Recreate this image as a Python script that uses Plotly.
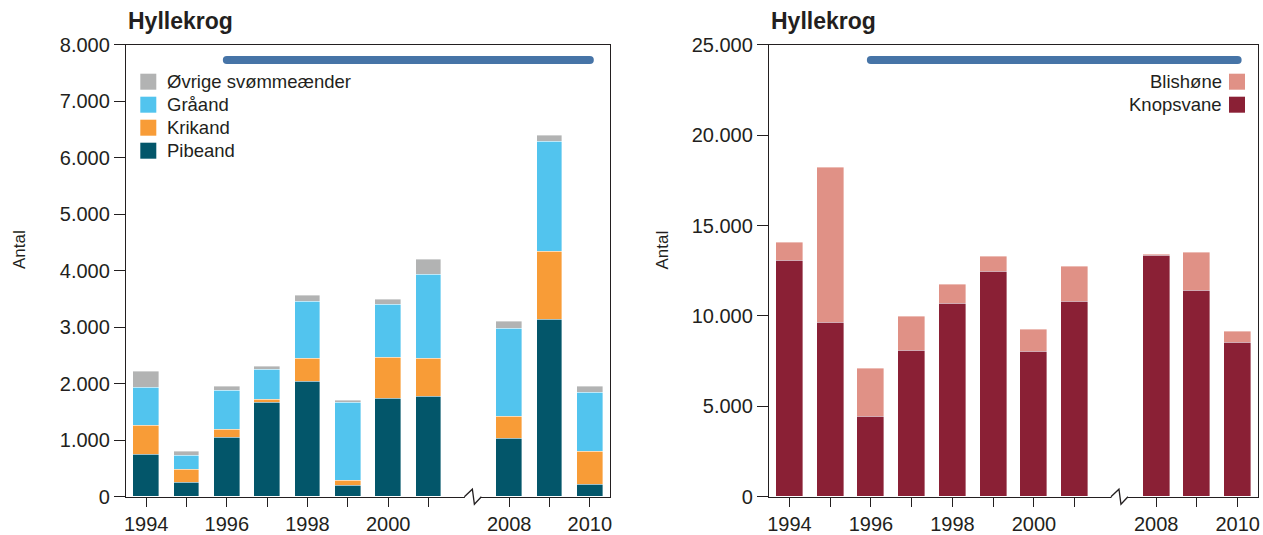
import plotly.graph_objects as go

# data
years = [1994, 1995, 1996, 1997, 1998, 1999, 2000, 2001, 2008, 2009, 2010]
label_years = [1994, 1996, 1998, 2000, 2008, 2010]

pibeand = [749, 242, 1044, 1664, 2035, 195, 1740, 1770, 1021, 3127, 218]
krikand = [508, 242, 148, 59, 402, 82, 726, 667, 395, 1209, 584]
graaand = [672, 242, 684, 531, 1014, 1393, 932, 1492, 1557, 1941, 1045]
ovrige = [289, 76, 77, 53, 107, 23, 83, 266, 124, 106, 106]

knopsvane = [13060, 9610, 4410, 8100, 10700, 12470, 8010, 10780, 13320, 11380, 8510]
blishone = [1010, 8580, 2690, 1860, 1010, 780, 1200, 1950, 90, 2100, 610]

period = [1996, 2010]
period_level_left = 7730
period_level_right = 24150

W, H = 1263, 535
FONT = "Liberation Sans, Arial, Helvetica, sans-serif"
TXT = "#231f20"
BLUE = "#4674a7"

# gap of one slot between 2001 and 2008 (axis break)
pos = [i if y <= 2001 else i + 1 for i, y in enumerate(years)]
year_pos = dict(zip(years, pos))
ticktext = [str(y) if y in label_years else "" for y in years]
BREAK = 8.1


def px(x):
    return x / W


def py(y):
    return 1 - y / H


dom_left = [px(126), px(610)]
dom_right = [px(769), px(1258)]
dom_y = [py(496.7), py(44.7)]

fig = go.Figure()

edge = dict(color="rgba(255,255,255,0.55)", width=0.7)
left_series = [
    ("Pibeand", pibeand, "#03566a"),
    ("Krikand", krikand, "#f89c37"),
    ("Gråand", graaand, "#52c4ee"),
    ("Øvrige svømmeænder", ovrige, "#b2b3b3"),
]
for name, vals, col in left_series:
    fig.add_trace(go.Bar(x=pos, y=vals, name=name, marker_color=col, marker_line=edge,
                         width=0.63, xaxis="x", yaxis="y", showlegend=False))

right_series = [
    ("Knopsvane", knopsvane, "#8a2035"),
    ("Blishøne", blishone, "#e09186"),
]
for name, vals, col in right_series:
    fig.add_trace(go.Bar(x=pos, y=vals, name=name, marker_color=col, marker_line=edge,
                         width=0.66, xaxis="x2", yaxis="y2", showlegend=False))

# monitoring period bars
for xa, ya, lvl in [("x", "y", period_level_left), ("x2", "y2", period_level_right)]:
    fig.add_trace(go.Scatter(x=[year_pos[p] for p in period], y=[lvl, lvl], mode="lines+markers",
                             line=dict(color=BLUE, width=8), marker=dict(color=BLUE, size=8),
                             xaxis=xa, yaxis=ya, showlegend=False, hoverinfo="skip"))

xcommon = dict(range=[-0.5, 11.5], tickmode="array", tickvals=pos, ticktext=ticktext,
               ticks="outside", ticklen=9, tickwidth=1.3, tickcolor=TXT,
               showline=True, linecolor=TXT, linewidth=1.3, mirror=True,
               showgrid=False, zeroline=False, tickfont=dict(size=20, color=TXT),
               automargin=False, fixedrange=True)
ycommon = dict(ticks="outside", ticklen=11, tickwidth=1.3, tickcolor=TXT,
               showline=True, linecolor=TXT, linewidth=1.3, mirror=True,
               showgrid=False, zeroline=False, tickformat=",d",
               tickfont=dict(size=20, color=TXT), automargin=False, fixedrange=True)

fig.update_layout(
    template="none",
    width=W, height=H,
    margin=dict(l=0, r=0, t=0, b=0, pad=0),
    plot_bgcolor="white", paper_bgcolor="white",
    font=dict(family=FONT, color=TXT),
    separators=",.",
    barmode="stack", bargap=0,
    xaxis=dict(domain=dom_left, anchor="y", **xcommon),
    yaxis=dict(domain=dom_y, anchor="x", range=[0, 8000], dtick=1000, **ycommon),
    xaxis2=dict(domain=dom_right, anchor="y2", **xcommon),
    yaxis2=dict(domain=dom_y, anchor="x2", range=[0, 25000], dtick=5000, **ycommon),
)

shapes = []
annotations = []


def break_marks(dom):
    c = dom[0] + (BREAK + 0.5) / 12 * (dom[1] - dom[0])
    cx = c * W
    base = 496.7
    shapes.append(dict(type="rect", xref="paper", yref="paper",
                       x0=px(cx - 8), x1=px(cx + 8), y0=py(base + 2.5), y1=py(base - 2.5),
                       fillcolor="white", line=dict(width=0), layer="above"))
    pts = [(cx - 8.5, base), (cx - 0.5, base - 7.5), (cx + 1.5, base + 7.5), (cx + 8.5, base)]
    path = "M " + " L ".join(f"{px(a):.5f},{py(b):.5f}" for a, b in pts)
    shapes.append(dict(type="path", xref="paper", yref="paper", path=path,
                       line=dict(color=TXT, width=1.3), layer="above"))


break_marks(dom_left)
break_marks(dom_right)

# titles and axis titles
for x0 in (126, 769):
    annotations.append(dict(text="<b>Hyllekrog</b>", xref="paper", yref="paper",
                            x=px(x0), y=py(21), xanchor="left", yanchor="middle",
                            showarrow=False, font=dict(size=23, color=TXT)))
for xc in (19, 661.5):
    annotations.append(dict(text="Antal", xref="paper", yref="paper", textangle=-90,
                            x=px(xc), y=py(250), xanchor="center", yanchor="middle",
                            showarrow=False, font=dict(size=17, color=TXT)))

# left legend (swatch left of text)
legend_left = [("Øvrige svømmeænder", "#b2b3b3"), ("Gråand", "#52c4ee"),
               ("Krikand", "#f89c37"), ("Pibeand", "#03566a")]
for i, (name, col) in enumerate(legend_left):
    yc = 81.7 + i * 23
    shapes.append(dict(type="rect", xref="paper", yref="paper",
                       x0=px(140.3), x1=px(156.3), y0=py(yc + 8), y1=py(yc - 8),
                       fillcolor=col, line=dict(width=0)))
    annotations.append(dict(text=name, xref="paper", yref="paper", x=px(165), y=py(yc),
                            xanchor="left", yanchor="middle", showarrow=False,
                            font=dict(size=18.5, color=TXT)))

# right legend (swatch right of text)
legend_right = [("Blishøne", "#e09186"), ("Knopsvane", "#8a2035")]
for i, (name, col) in enumerate(legend_right):
    yc = 81.7 + i * 23
    shapes.append(dict(type="rect", xref="paper", yref="paper",
                       x0=px(1229), x1=px(1245), y0=py(yc + 8), y1=py(yc - 8),
                       fillcolor=col, line=dict(width=0)))
    annotations.append(dict(text=name, xref="paper", yref="paper", x=px(1224), y=py(yc),
                            xanchor="right", yanchor="middle", showarrow=False,
                            font=dict(size=18.5, color=TXT)))

fig.update_layout(shapes=shapes, annotations=annotations)

# page has a default body margin; drop it so the figure sits at the window's corner
fig.write_html("out.html", config={"displayModeBar": False},
               post_script="document.body.style.margin='0px';")
